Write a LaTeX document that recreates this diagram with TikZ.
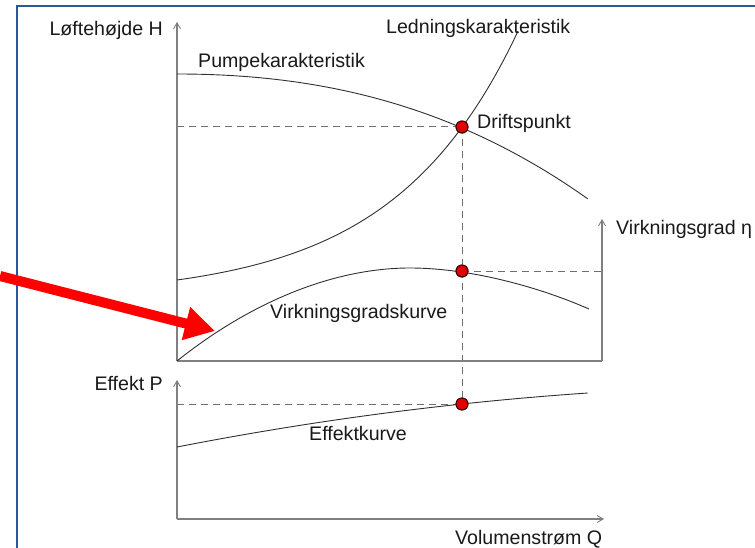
\documentclass[tikz,border=0pt]{standalone}
\usepackage{fontspec}
\setmainfont{Liberation Sans}
\usetikzlibrary{arrows.meta}
\definecolor{frameblue}{HTML}{2F559E}
\definecolor{axisgray}{HTML}{808080}
\definecolor{curvegray}{HTML}{303030}
\definecolor{dashgray}{HTML}{707070}
\definecolor{dotred}{HTML}{E00000}
\tikzset{
  axisline/.style={draw=axisgray, line width=1.3pt, -{Straight Barb[length=6pt,width=7pt,line width=0.9pt]}},
  axisplain/.style={draw=axisgray, line width=1.3pt},
  curveline/.style={draw=curvegray, line width=0.9pt},
  dashline/.style={draw=dashgray, line width=1pt, dash pattern=on 7pt off 5pt},
  dotmark/.style={circle, fill=dotred, draw=black!80!red, line width=0.9pt, minimum size=12pt, inner sep=0pt},
  lbl/.style={inner sep=0pt, font=\fontsize{19.6}{22}\selectfont, text=black!90},
  framebox/.style={draw=frameblue, line width=2.5pt},
  redarrow/.style={draw=red, line width=10pt, -{Triangle[length=30pt,width=32pt]}}
}
\begin{document}
\begin{tikzpicture}[x=1pt,y=-1pt]
\useasboundingbox (0,0) rectangle (755,548);
% frame
\draw[framebox] (17,548) -- (17,6) -- (755,6);
% axes coordinates
\coordinate (O1) at (177,361);
\coordinate (Htop) at (177,22);
\coordinate (X1end) at (602,361);
\coordinate (Etop) at (602,219);
\coordinate (O2) at (177,519);
\coordinate (Ptop) at (177,380);
\coordinate (X2end) at (604,519);
% points
\node[dotmark] (op) at (462,127) {};
\node[dotmark] (eff) at (462,271) {};
\node[dotmark] (pw) at (462,404) {};
% dashed lines
\draw[dashline] (O1 |- op) -- (op.center);
\draw[dashline] (op.center) -- (pw.center);
\draw[dashline] (eff.center) -- (X1end |- eff);
\draw[dashline] (O2 |- pw) -- (pw.center);
% axes
\draw[axisline] (O1) -- (Htop);
\draw[axisplain] (O1) -- (X1end);
\draw[axisline] (X1end) -- (Etop);
\draw[axisline] (O2) -- (Ptop);
\draw[axisline] (O2) -- (X2end);
% curves
% pump characteristic
\draw[curveline] plot[domain=0:1, samples=90] ({177+411*\x}, {74+83.4*\x*\x+41.6*\x*\x*\x});
% system characteristic
\draw[curveline] plot[domain=0:341, samples=90] ({177+\x}, {280-17.43*(exp(0.008*\x)-1)});
% efficiency curve
\draw[curveline] (O1) .. controls (247,305) and (330,268) .. (410,268)
                        .. controls (470,268) and (539,287) .. (589,309);
% power curve
\draw[curveline] plot[domain=0:1, samples=60] ({177+411*\x}, {447-80.1*\x+26.1*\x*\x});
% redraw dots on top
\node[dotmark] at (op) {};
\node[dotmark] at (eff) {};
\node[dotmark] at (pw) {};
% labels
\node[lbl, anchor=base east] (lH) at (163,36) {Løftehøjde H};
\node[lbl, anchor=base west] (lPump) at (198,68) {Pumpekarakteristik};
\node[lbl, anchor=base west] (lLed) at (386,34) {Ledningskarakteristik};
\node[lbl, anchor=base west] (lDrift) at (477,129) {Driftspunkt};
\node[lbl, anchor=base west] (lEta) at (616,234) {Virkningsgrad η};
\node[lbl, anchor=base west] (lVk) at (270,318) {Virkningsgradskurve};
\node[lbl, anchor=base east] (lP) at (163,390) {Effekt P};
\node[lbl, anchor=base west] (lEk) at (309,440) {Effektkurve};
\node[lbl, anchor=base west] (lQ) at (455,544) {Volumenstrøm Q};
% red arrow
\coordinate (rstart) at (0,276);
\coordinate (rtip) at (215,331);
\draw[redarrow] (rstart) -- (rtip);
\end{tikzpicture}
\end{document}
